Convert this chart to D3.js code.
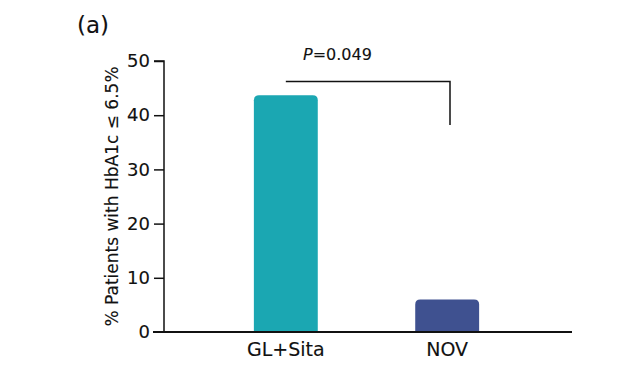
<!DOCTYPE html>
<html>
<head>
<meta charset="utf-8">
<script src="https://cdn.jsdelivr.net/npm/d3@7"></script>
<style>
  body { margin: 0; background: #fff; }
  text { font-family: "DejaVu Sans", sans-serif; fill: #111; stroke: #111; stroke-width: 0.12px; }
</style>
</head>
<body>
<div id="chart"></div>
<script>
// Chart data
const groups = ['GL+Sita', 'NOV'];
const values = [43.7, 6.0];
const colors = ['#1ba7b2', '#3f5190'];
const yTicks = [0, 10, 20, 30, 40, 50];
const pLabel = '=0.049';

const svgWidth = 640;
const svgHeight = 377;

const svg = d3.select('#chart')
  .append('svg')
  .attr('width', svgWidth)
  .attr('height', svgHeight);

// Scales
const x = d3.scaleBand()
  .domain(groups)
  .range([164, 569])
  .paddingInner(0.604)
  .paddingOuter(0.557);
const y = d3.scaleLinear()
  .domain([0, 50])
  .range([332, 61]);

// Bars with rounded tops
const r = 5;
svg.selectAll('path.bar')
  .data(groups)
  .enter()
  .append('path')
  .attr('class', 'bar')
  .attr('fill', (d, i) => colors[i])
  .attr('d', (d, i) => {
    const x0 = x(d), x1 = x(d) + x.bandwidth();
    const y0 = y(0), y1 = y(values[i]);
    return 'M' + x0 + ',' + y0 + 'V' + (y1 + r) +
      'Q' + x0 + ',' + y1 + ' ' + (x0 + r) + ',' + y1 +
      'H' + (x1 - r) + 'Q' + x1 + ',' + y1 + ' ' + x1 + ',' + (y1 + r) +
      'V' + y0 + 'Z';
  });

// Y axis
const yAxis = svg.append('g')
  .attr('transform', 'translate(164,0)')
  .call(d3.axisLeft(y).tickValues(yTicks).tickSize(10).tickPadding(4));
yAxis.select('.domain').attr('stroke', '#111').attr('stroke-width', 1.5).attr('d', 'M-10,' + y(50) + 'H0V' + y(0));
yAxis.selectAll('.tick line').attr('stroke', '#111').attr('stroke-width', 1.5);
yAxis.selectAll('.tick text').style('font-size', '18px').attr('fill', '#111');
yAxis.selectAll('.tick').filter(d => d === 0).select('line').remove();

// X axis
const xAxis = svg.append('g')
  .attr('transform', 'translate(0,' + y(0) + ')')
  .call(d3.axisBottom(x).tickSize(0).tickPadding(11));
xAxis.select('.domain').attr('stroke', '#111').attr('stroke-width', 2).attr('d', 'M153,0H572');
xAxis.selectAll('.tick text').style('font-size', '19px').attr('fill', '#111');

// Y axis title
svg.append('text')
  .attr('transform', 'translate(118,' + y(25) + ') rotate(-90)')
  .attr('text-anchor', 'middle')
  .style('font-size', '17px')
  .text('% Patients with HbA1c ≤ 6.5%');

// Significance bracket
const xa = x('GL+Sita') + x.bandwidth() / 2;
const xb = 450;
const yTop = y(46.2);
svg.append('path')
  .attr('fill', 'none')
  .attr('stroke', '#111')
  .attr('stroke-width', 1.5)
  .attr('d', 'M' + xa + ',' + y(values[0] + 2.5) + 'V' + yTop + 'H' + xb + 'V' + y(38.2));

const pText = svg.append('text')
  .attr('x', 303)
  .attr('y', 60)
  .style('font-size', '16px');
pText.append('tspan').style('font-style', 'italic').text('P');
pText.append('tspan').text(pLabel);

// Panel label
svg.append('text')
  .attr('x', 77)
  .attr('y', 33)
  .style('font-size', '23px')
  .text('(a)');
</script>
</body>
</html>
